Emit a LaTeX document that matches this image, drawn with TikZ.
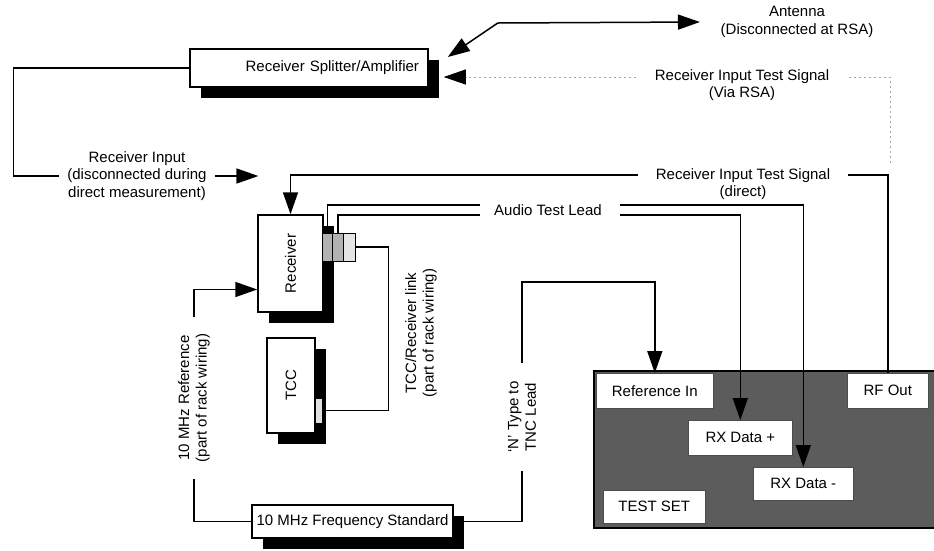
\documentclass[tikz,border=0pt]{standalone}
\usepackage{fontspec}
\setmainfont{Liberation Sans}
\usepackage{graphicx}
\usetikzlibrary{arrows.meta,shadows}

\begin{document}
\begin{tikzpicture}[x=1pt,y=-1pt,line width=1.5pt,
    font=\fontsize{15}{17.5}\selectfont,
    >={Triangle[length=22pt,width=15pt]},
    unit/.style={draw,fill=white,inner sep=0pt,
      drop shadow={shadow xshift=11pt,shadow yshift=-11pt,fill=black,opacity=1}},
    lbl/.style={align=center,inner sep=0pt},
    plug/.style={draw,line width=.6pt,inner sep=0pt,minimum width=11pt,minimum height=28pt},
    port/.style={draw=black!70,line width=.6pt,fill=white,inner sep=0pt,anchor=north west},
    dotl/.style={gray!70,line width=.9pt,dash pattern=on 2.5pt off 2.5pt}]
  \useasboundingbox (0,0) rectangle (934,550);

  \node[unit,minimum width=238pt,minimum height=38pt,text width=220pt,align=right]
    (split) at (309,68) {Receiver Splitter/Amplifier};
  \node[unit,minimum width=65pt,minimum height=97pt] (rx) at (290.5,263.5) {\rotatebox{90}{Receiver}};
  \node[unit,minimum width=48pt,minimum height=95pt] (tcc) at (291,385.5) {\rotatebox{90}{TCC}};
  \node[unit,minimum width=201pt,minimum height=33pt] (fstd) at (352.5,521.5) {10 MHz Frequency Standard};

  \node[plug,fill=gray!60] (rxp1) at (327.5,247) {};
  \node[plug,fill=gray!60] (rxp2) at (338,247) {};
  \node[plug,fill=gray!20,minimum width=12pt] (rxp3) at (349,247) {};
  \node[draw,fill=gray!25,line width=.6pt,minimum width=7pt,minimum height=25pt,inner sep=0pt]
    (tccport) at (318.5,410.5) {};

  \node[draw,fill=black!64,minimum width=341pt,minimum height=157pt,inner sep=0pt,anchor=north west]
    (tset) at (593,370) {};
  \node[port,minimum width=117pt,minimum height=35pt] (refin) at (596,373) {Reference In};
  \node[port,minimum width=81pt,minimum height=35pt] (rfout) at (847,373) {RF Out};
  \node[port,minimum width=104pt,minimum height=35pt] (dplus) at (688,420) {RX Data +};
  \node[port,minimum width=100pt,minimum height=33pt] (dminus) at (753,467) {RX Data -};
  \node[port,minimum width=102pt,minimum height=33pt] (tsetlbl) at (603,490) {TEST SET};

  \node[lbl] (ant) at (797,22) {Antenna\\(Disconnected at RSA)};
  \node[lbl] (viarsa) at (742,85) {Receiver Input Test Signal\\(Via RSA)};
  \node[lbl] (direct) at (743,184) {Receiver Input Test Signal\\(direct)};
  \node[lbl] (rxinput) at (137,176) {Receiver Input\\(disconnected during\\direct measurement)};
  \node[lbl] (audio) at (548,210) {Audio Test Lead};
  \node[lbl,rotate=90,inner xsep=16pt] (tenref) at (194,398) {10 MHz Reference\\(part of rack wiring)};
  \node[lbl,rotate=90] (tcclink) at (421,333) {TCC/Receiver link\\(part of rack wiring)};
  \node[lbl,rotate=90,inner xsep=18pt] (ntype) at (522,417) {`N' Type to\\TNC Lead};

  \coordinate (rsadot) at (890,163);
  \coordinate (nbend) at (522,282);
  \coordinate (aL1) at (480,205);
  \coordinate (aL2) at (480,215);
  \coordinate (aR1) at (620,205);
  \coordinate (aR2) at (620,215);

  \draw[<->] ([shift={(19pt,11pt)}]split.east) -- ++(50,-34) -- ([xshift=-20pt]ant.west);
  \draw[dotl] (rsadot) |- ([shift={(18pt,8pt)}]viarsa.east);
  \draw[dotl,-{Triangle[length=22pt,width=15pt,color=black]}]
    ([shift={(-18pt,8pt)}]viarsa.west) -- ([shift={(15pt,-9pt)}]split.east);
  \draw (split.west) -- ++(-176,0) |- ([xshift=-8pt]rxinput.west);
  \draw[->] ([xshift=8pt]rxinput.east) -- ++(43,0);
  \draw (rfout.north) |- ([shift={(17pt,9pt)}]direct.east);
  \draw[->] ([shift={(-17pt,9pt)}]direct.west) -| (rx.north);

  \draw (rxp1.north) |- (aL1);
  \draw (rxp2.north) |- (aL2);
  \draw[->] (aR1) -| (dminus.north);
  \draw[->] (aR2) -| (dplus.north);

  \draw (rxp3.east) -- ++(33,0) |- (tccport.east);
  \draw (fstd.west) -| (tenref.west);
  \draw[->] (tenref.east) |- ([yshift=-26pt]rx.west);
  \draw (fstd.east) -| (ntype.west);
  \draw[->] (ntype.east) -- (nbend) -| (refin.north);
\end{tikzpicture}
\end{document}
